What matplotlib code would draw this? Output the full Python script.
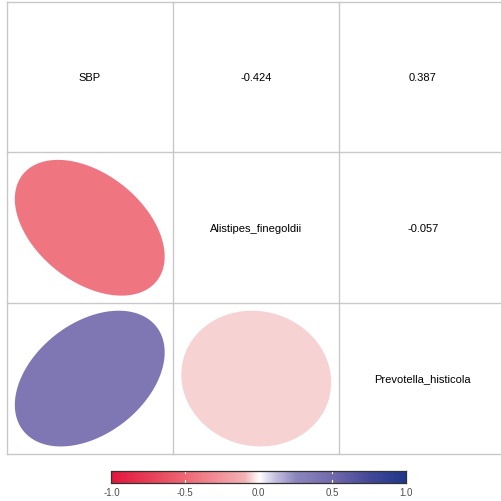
import numpy as np
import matplotlib
matplotlib.use("Agg")
import matplotlib.pyplot as plt
from matplotlib.colors import LinearSegmentedColormap
from matplotlib.patches import Polygon

plt.rcParams['font.family'] = ['Liberation Sans', 'DejaVu Sans']

# Variables and their pairwise correlations
variables = ["SBP", "Alistipes_finegoldii", "Prevotella_histicola"]
corr = np.array([
    [1.000, -0.424, 0.387],
    [-0.424, 1.000, -0.057],
    [0.387, -0.057, 1.000],
])
bar_ticks = [-1.0, -0.5, 0.0, 0.5, 1.0]

# Diverging red-white-blue palette
node_vals = [-1.0, -0.75, -0.5, -0.25, -0.1, 0.0, 0.1, 0.25, 0.5, 0.75, 1.0]
node_cols = [(227, 23, 62), (232, 62, 88), (238, 105, 118), (243, 150, 157),
             (242, 178, 180), (255, 255, 255), (200, 196, 224), (140, 134, 190),
             (114, 106, 172), (68, 72, 152), (32, 55, 138)]
cmap = LinearSegmentedColormap.from_list(
    "rwb", [((v + 1) / 2, tuple(c / 255 for c in col)) for v, col in zip(node_vals, node_cols)])

W = H = 502
fig = plt.figure(figsize=(W / 100, H / 100), dpi=100)

left, right, top, bottom = 6.5, 506.0, 2.5, 455.0
ax = fig.add_axes([left / W, 1 - bottom / H, (right - left) / W, (bottom - top) / H])
n = len(variables)
ax.set_xlim(0, n)
ax.set_ylim(n, 0)
ax.axis("off")

grid_col = "#c8c8c8"
for k in range(n + 1):
    ax.plot([k, k], [0, n], color=grid_col, lw=1.0, clip_on=False, zorder=1)
    ax.plot([0, n], [k, k], color=grid_col, lw=1.0, clip_on=False, zorder=1)


def ellipse_points(rho, scale=0.45, num=200):
    t = np.linspace(0, 2 * np.pi, num)
    a = np.arccos(rho)
    return scale * np.cos(t + a / 2), scale * np.cos(t - a / 2)


for i in range(n):
    for j in range(n):
        cx, cy = j + 0.5, i + 0.5
        if i == j:
            ax.text(cx, cy, variables[i], ha="center", va="center", fontsize=8, color="black")
        elif j > i:
            ax.text(cx, cy, f"{corr[i, j]:.3f}", ha="center", va="center", fontsize=8, color="black")
        else:
            ex, ey = ellipse_points(corr[i, j])
            color = cmap((corr[i, j] + 1) / 2)
            ax.add_patch(Polygon(np.column_stack([cx + ex, cy - ey]), closed=True,
                                 facecolor=color, edgecolor="none", zorder=2))

# Colour bar
cb_l, cb_r, cb_t, cb_b = 111.5, 406.0, 472.0, 483.5
cax = fig.add_axes([cb_l / W, 1 - cb_b / H, (cb_r - cb_l) / W, (cb_b - cb_t) / H])
grad = np.linspace(-1, 1, 400)[None, :]
cax.imshow(grad, aspect="auto", cmap=cmap, vmin=-1, vmax=1, extent=[-1, 1, 0, 1])
cax.set_xlim(-1, 1)
cax.set_ylim(0, 1)
for v in bar_ticks[1:-1]:
    cax.plot([v, v], [0, 0.2], color="white", lw=0.8)
    cax.plot([v, v], [0.8, 1], color="white", lw=0.8)
cax.set_yticks([])
cax.set_xticks(bar_ticks)
cax.set_xticklabels([f"{v:.1f}" for v in bar_ticks], fontsize=7, color="#4d4d4d")
cax.tick_params(axis="x", length=0, pad=3)
for s in cax.spines.values():
    s.set_color("#333333")
    s.set_linewidth(0.9)

fig.savefig("out.png", dpi=100)
